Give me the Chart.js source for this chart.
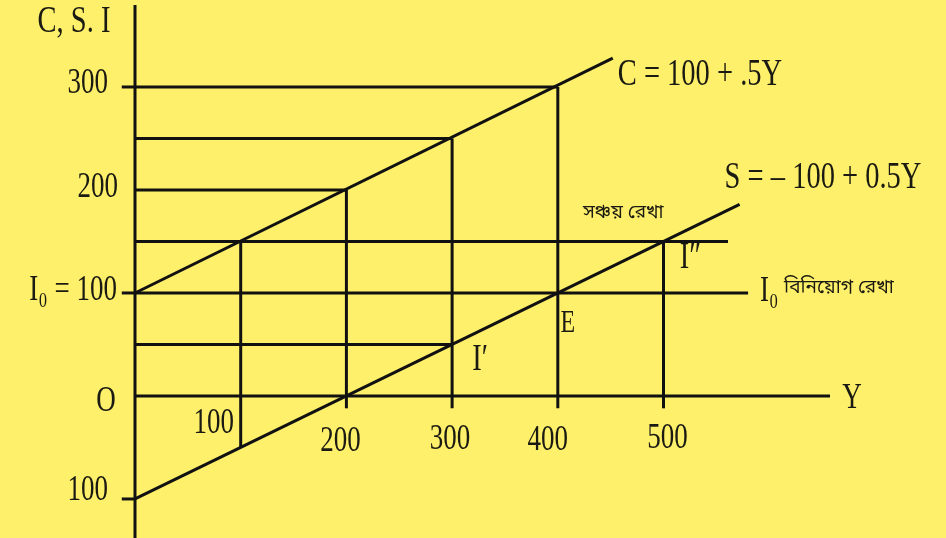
<!DOCTYPE html>
<html>
<head>
<meta charset="utf-8">
<script src="https://cdn.jsdelivr.net/npm/chart.js@4"></script>
<style>
  html, body { margin: 0; padding: 0; background: #fef06a; }
  canvas { display: block; }
</style>
</head>
<body>
<canvas id="myChart" width="946" height="538"></canvas>
<script>
// Consumption line C = 100 + .5Y (ends)
var consY = [0, 452];
var consC = [100, 328];
// Saving line S = -100 + 0.5Y
var saveY = [0, 572];
var saveS = [-100, 186];
// Investment line I0 = 100
var investLevel = 100;
var investEnd = 580;
// horizontal guide lines drawn from the C, S, I axis
var guideLevels = [300, 250, 200, 150, 50];
var guideEnds = [400, 300, 200, 561, 300];
// vertical drops from the C line
var dropIncome = [100, 200, 300, 400, 500];
var dropTop = [150, 200, 250, 300, 150];
var dropBottom = [-50, -12, -12, -12, -12];
// axes
var xAxisEnd = 657.5;
var yAxisMin = -137.9;
var yAxisMax = 379.6;
var yTickMarks = [300, 100, -100];
// tick labels
var incomeLabels = ['100', '200', '300', '400', '500'];
var levelValues = [300, 200, 100, 0, -100];
var levelLabels = ['300', '200', 'I\u2080 = 100', 'O', '100'];

function seg(x1, y1, x2, y2, w) {
  return {
    data: [{x: x1, y: y1}, {x: x2, y: y2}],
    showLine: true,
    borderColor: '#111',
    borderWidth: w || 3,
    pointRadius: 0,
    borderCapStyle: 'butt',
    clip: false
  };
}

var datasets = [];
// axes
datasets.push(seg(0, yAxisMin, 0, yAxisMax));
datasets.push(seg(0, 0, xAxisEnd, 0));
yTickMarks.forEach(function (v) { datasets.push(seg(-12.5, v, 0, v)); });
// C and S lines
datasets.push(seg(consY[0], consC[0], consY[1], consC[1]));
datasets.push(seg(saveY[0], saveS[0], saveY[1], saveS[1]));
// investment line
datasets.push(seg(0, investLevel, investEnd, investLevel));
// guides
guideLevels.forEach(function (v, i) { datasets.push(seg(0, v, guideEnds[i], v)); });
dropIncome.forEach(function (x, i) { datasets.push(seg(x, dropBottom[i], x, dropTop[i])); });

var serif = '"Liberation Serif", "DejaVu Serif", serif';
var bangla = '"Noto Sans Bengali", "Noto Serif Bengali", "Lohit Bengali", "Noto Sans", sans-serif';

// text: anchor in data units plus a pixel nudge
var notes = [
  {t: 'C, S. I', x: 0, y: yAxisMax, dx: -61, dy: 17, a: 'center', size: 38},
  {t: 'C = 100 + .5Y', x: consY[1], y: consC[1], dx: 5, dy: 17, a: 'left', size: 38},
  {t: 'S = \u2013 100 + 0.5Y', x: saveY[1], y: saveS[1], dx: -15, dy: -26, a: 'left', size: 38},
  {t: '\u09B8\u099E\u09CD\u099A\u09AF\u09BC \u09B0\u09C7\u0996\u09BE', x: 460, y: 150, dx: 2, dy: -27, a: 'center', size: 19, font: bangla, sx: 1},
  {t: 'I\u2080', x: investEnd, y: investLevel, dx: 12, dy: -1, a: 'left', size: 36},
  {t: '\u09AC\u09BF\u09A8\u09BF\u09AF\u09BC\u09CB\u0997 \u09B0\u09C7\u0996\u09BE', x: investEnd, y: investLevel, dx: 36, dy: -4, a: 'left', size: 19, font: bangla, sx: 1},
  {t: 'E', x: 400, y: 100, dx: 10, dy: 31, a: 'center', size: 32},
  {t: 'I\u2032', x: 300, y: 50, dx: 28, dy: 16, a: 'center', size: 38},
  {t: 'I\u2033', x: 500, y: 150, dx: 27, dy: 17, a: 'center', size: 38},
  {t: 'Y', x: xAxisEnd, y: 0, dx: 22, dy: 3, a: 'center', size: 36}
];
// income tick labels under the Y axis
var incomeNudge = [[-27, 28], [-6, 46], [-2, 44], [-10, 45], [4, 43]];
incomeLabels.forEach(function (t, i) {
  notes.push({t: t, x: dropIncome[i], y: 0, dx: incomeNudge[i][0], dy: incomeNudge[i][1], a: 'center', size: 36});
});
// level labels left of the axis
var levelNudge = [[-27, -3, 'right'], [-17, -2, 'right'], [-18, -2, 'right'], [-29, 6, 'center'], [-27, -8, 'right']];
levelLabels.forEach(function (t, i) {
  notes.push({t: t, x: 0, y: levelValues[i], dx: levelNudge[i][0], dy: levelNudge[i][1], a: levelNudge[i][2], size: 36});
});

var notesPlugin = {
  id: 'notes',
  beforeDraw: function (chart) {
    var ctx = chart.ctx;
    ctx.save();
    ctx.fillStyle = '#fef06a';
    ctx.fillRect(0, 0, chart.width, chart.height);
    ctx.restore();
  },
  afterDatasetsDraw: function (chart) {
    var ctx = chart.ctx;
    var xs = chart.scales.x, ys = chart.scales.y;
    notes.forEach(function (n) {
      var px = xs.getPixelForValue(n.x) + n.dx;
      var py = ys.getPixelForValue(n.y) + n.dy;
      ctx.save();
      ctx.translate(px, py);
      ctx.scale(n.sx || 0.75, 1);
      ctx.font = n.size + 'px ' + (n.font || serif);
      ctx.fillStyle = '#1a1a12';
      ctx.textAlign = n.a;
      ctx.textBaseline = 'middle';
      ctx.fillText(n.t, 0, 0);
      ctx.restore();
    });
  }
};

var ctx = document.getElementById('myChart');
var myChart = new Chart(ctx, {
  type: 'scatter',
  data: { datasets: datasets },
  options: {
    responsive: false,
    animation: false,
    devicePixelRatio: 1,
    layout: { padding: { left: 135, right: 116, top: 5, bottom: 0 } },
    scales: {
      x: { type: 'linear', min: 0, max: xAxisEnd, display: false },
      y: { type: 'linear', min: yAxisMin, max: yAxisMax, display: false }
    },
    plugins: { legend: { display: false }, tooltip: { enabled: false } }
  },
  plugins: [notesPlugin]
});
</script>
</body>
</html>
